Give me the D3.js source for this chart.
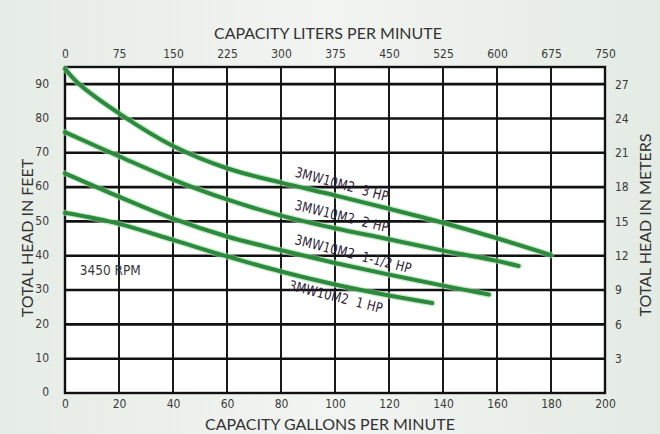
<!DOCTYPE html>
<html><head><meta charset="utf-8">
<script src="https://cdn.jsdelivr.net/npm/d3@7/dist/d3.min.js"></script>
<style>
html,body{margin:0;padding:0;background:#eef1ee;}
svg{display:block;}
</style></head>
<body><svg id="c" width="660" height="434"></svg>
<script>
// ---- data ----
const gallonTicks = [0,20,40,60,80,100,120,140,160,180,200];
const literTicks = [0,75,150,225,300,375,450,525,600,675,750];
const feetTicks = [0,10,20,30,40,50,60,70,80,90];
const meterTicks = [3,6,9,12,15,18,21,24,27];
const seriesNames = ["3MW10M2  3 HP","3MW10M2  2 HP","3MW10M2  1-1/2 HP","3MW10M2  1 HP"];
const gpm3hp  = [0,5,20,40,60,80,100,120,140,160,180];
const head3hp = [94.5,90.2,81.5,72,65.5,61.3,57.6,53.7,49.6,45.1,40.2];
const gpm2hp  = [0,20,40,60,80,100,120,140,160,168];
const head2hp = [76,69,62.2,56.4,51.7,48,44.8,41.5,38.5,37];
const gpm15hp  = [0,20,40,60,80,100,120,140,157];
const head15hp = [64,57.2,50.8,45.6,41.6,37.9,34.5,31.3,28.7];
const gpm1hp  = [0,20,40,60,80,100,120,136];
const head1hp = [52.5,49.3,44.6,39.8,35.4,31.6,28.4,26.2];

const svg = d3.select("#c");
const L=65,R=605,T=67,B=393;
const x = d3.scaleLinear().domain([0,200]).range([L,R]);
const xTop = d3.scaleLinear().domain([0,750]).range([L,R]);
const y = d3.scaleLinear().domain([0,95]).range([B,T]);
const yM = d3.scaleLinear().domain([0,28.5]).range([B,T]);

// background gradient
const defs = svg.append("defs");
const g = defs.append("linearGradient").attr("id","bg").attr("x1",0).attr("y1",0).attr("x2",1).attr("y2",0);
g.append("stop").attr("offset","0%").attr("stop-color","#e6ece6");
g.append("stop").attr("offset","50%").attr("stop-color","#f2f4f1");
g.append("stop").attr("offset","100%").attr("stop-color","#e4ebe4");
svg.append("rect").attr("width",660).attr("height",434).attr("fill","url(#bg)");
svg.append("rect").attr("x",L).attr("y",T).attr("width",R-L).attr("height",B-T).attr("fill","#fff");

// grid
const grid = svg.append("g");
grid.selectAll("line.v").data(gallonTicks.slice(1,-1)).join("line")
  .attr("x1",d=>x(d)).attr("x2",d=>x(d)).attr("y1",T).attr("y2",B)
  .attr("stroke","#1a1a1a").attr("stroke-width",2);
grid.selectAll("line.h").data(feetTicks.slice(1)).join("line")
  .attr("x1",L).attr("x2",R).attr("y1",d=>y(d)).attr("y2",d=>y(d))
  .attr("stroke","#111").attr("stroke-width",2.6);
svg.append("rect").attr("x",L).attr("y",T).attr("width",R-L).attr("height",B-T)
  .attr("fill","none").attr("stroke","#111").attr("stroke-width",2.4);

// axes (labels only)
const tickFont = "'DejaVu Sans Condensed','Liberation Sans Narrow',sans-serif";
function styleAxis(sel){
  sel.select(".domain").remove();
  sel.selectAll(".tick line").remove();
  sel.selectAll("text").attr("font-family",tickFont).attr("font-size",12).attr("fill","#3a3a3a");
}
svg.append("g").attr("transform",`translate(0,${T-9})`)
  .call(d3.axisTop(xTop).tickValues(literTicks).tickSize(0).tickPadding(0)).call(styleAxis);
svg.append("g").attr("transform",`translate(0,${B+6})`)
  .call(d3.axisBottom(x).tickValues(gallonTicks).tickSize(0).tickPadding(0)).call(styleAxis);
svg.append("g").attr("transform",`translate(${L-16},-1)`)
  .call(d3.axisLeft(y).tickValues(feetTicks).tickSize(0).tickPadding(0)).call(styleAxis);
svg.append("g").attr("transform",`translate(${R+10},0)`)
  .call(d3.axisRight(yM).tickValues(meterTicks).tickSize(0).tickPadding(0)).call(styleAxis);

// axis titles
const titleFont = "Lato,'Open Sans',sans-serif";
svg.append("text").attr("x",328).attr("y",39).attr("text-anchor","middle")
  .attr("font-family",titleFont).attr("font-size",16).attr("fill","#333").text("CAPACITY LITERS PER MINUTE");
svg.append("text").attr("x",330).attr("y",430).attr("text-anchor","middle")
  .attr("font-family",titleFont).attr("font-size",16).attr("fill","#333").text("CAPACITY GALLONS PER MINUTE");
svg.append("text").attr("transform","translate(33,238) rotate(-90)").attr("text-anchor","middle")
  .attr("font-family",titleFont).attr("font-size",16).attr("fill","#333").text("TOTAL HEAD IN FEET");
svg.append("text").attr("transform","translate(651,225) rotate(-90)").attr("text-anchor","middle")
  .attr("font-family",titleFont).attr("font-size",16).attr("fill","#333").text("TOTAL HEAD IN METERS");

// curves
const series = [
  {name:seriesNames[0], gx:gpm3hp, hy:head3hp, at:84, off:-9},
  {name:seriesNames[1], gx:gpm2hp, hy:head2hp, at:84, off:-9},
  {name:seriesNames[2], gx:gpm15hp, hy:head15hp, at:84, off:-9},
  {name:seriesNames[3], gx:gpm1hp, hy:head1hp, at:84, off:16}
];
const line = d3.line().x(d=>x(d[0])).y(d=>y(d[1])).curve(d3.curveCatmullRom.alpha(0.5));
series.forEach(s=>{
  const pts = s.gx.map((v,i)=>[v,s.hy[i]]);
  svg.append("path").attr("d",line(pts)).attr("fill","none")
    .attr("stroke","#a6d9ab").attr("stroke-width",6.5).attr("stroke-opacity",0.6).attr("stroke-linecap","round");
  svg.append("path").attr("d",line(pts)).attr("fill","none")
    .attr("stroke","#2b8a3c").attr("stroke-width",4).attr("stroke-linecap","round");
  // label along curve
  const interp = g0 => { const i = d3.bisectRight(s.gx,g0)-1; const t=(g0-s.gx[i])/(s.gx[i+1]-s.gx[i]); return s.hy[i]+t*(s.hy[i+1]-s.hy[i]); };
  const x0=x(s.at), y0=y(interp(s.at)), x1=x(s.at+30), y1=y(interp(s.at+30));
  const ang = Math.atan2(y1-y0,x1-x0)*180/Math.PI + 1.5;
  svg.append("text").attr("transform",`translate(${x0},${y0}) rotate(${ang}) translate(0,${s.off}) scale(0.9,1)`)
    .attr("font-family",tickFont).attr("font-size",14).attr("letter-spacing",0.3).attr("fill","#2e2035").attr("xml:space","preserve")
    .text(s.name);
});

svg.append("text").attr("x",x(5.5)).attr("y",y(34.3)).attr("font-family",tickFont)
  .attr("font-size",13.5).attr("fill","#3a3a3a").text("3450 RPM");
</script></body></html>
